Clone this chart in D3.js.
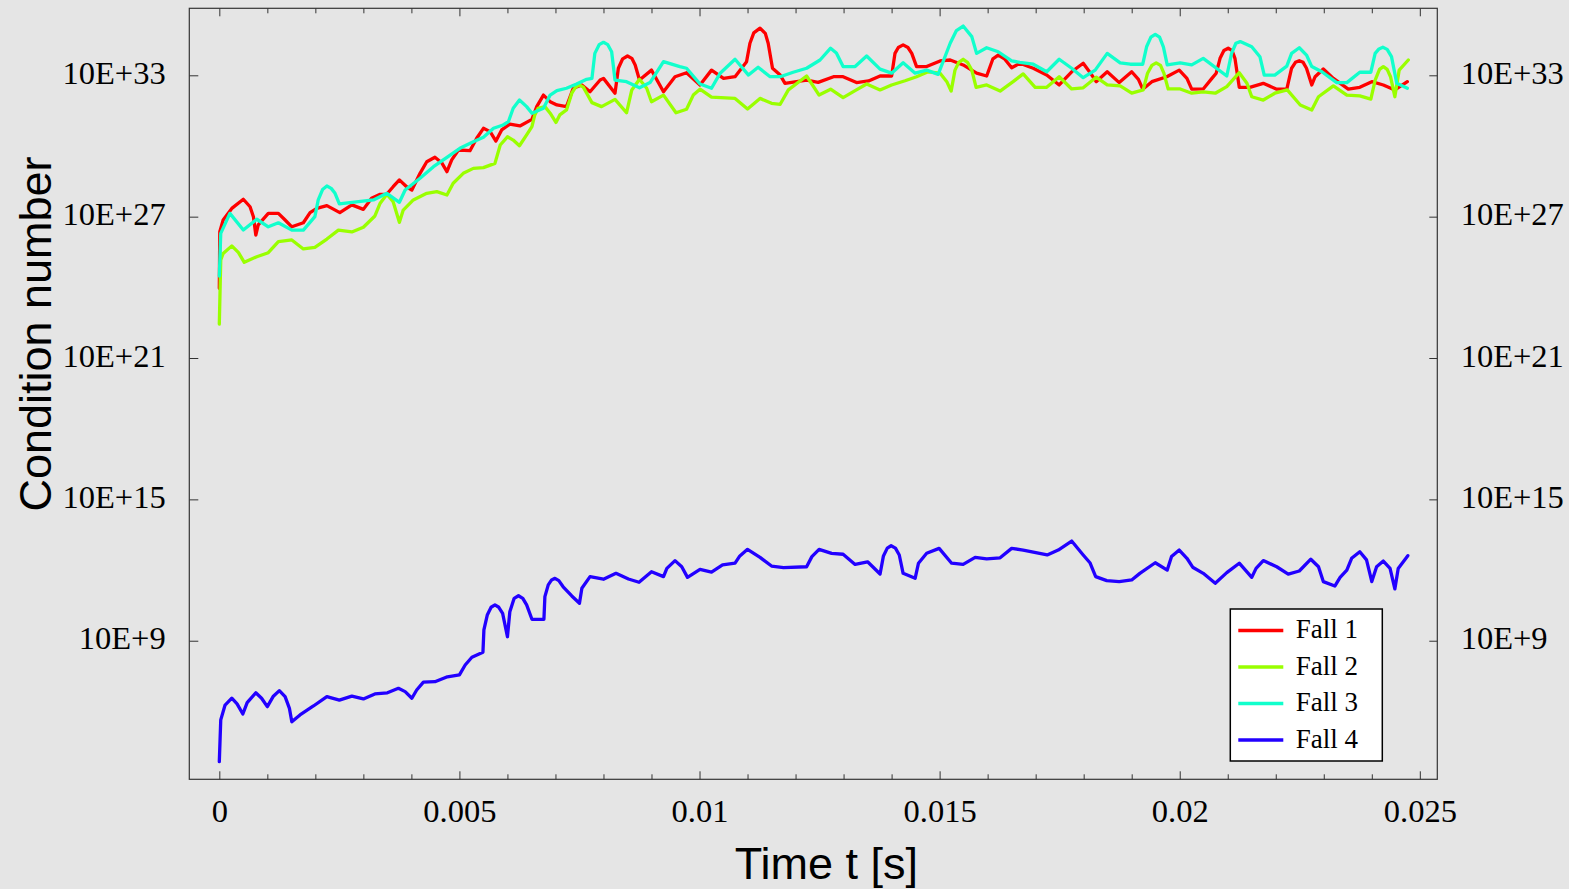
<!DOCTYPE html>
<html>
<head>
<meta charset="utf-8">
<script src="https://cdn.jsdelivr.net/npm/d3@7"></script>
<style>
  html, body { margin: 0; padding: 0; background: #e5e5e5; }
  svg { display: block; }
</style>
</head>
<body>
<svg id="chart" width="1569" height="889"></svg>
<script>
// Condition number over time for four load cases; values are log10 of the condition number.
const seriesNames = ["Fall 1", "Fall 2", "Fall 3", "Fall 4"];
const seriesColors = ["#ff0000", "#99ff00", "#11ffcc", "#2200ff"];

const xTickValues = [0, 0.005, 0.01, 0.015, 0.02, 0.025];
const xMinorValues = [0.001, 0.002, 0.003, 0.004, 0.006, 0.007, 0.008, 0.009, 0.011, 0.012, 0.013, 0.014,
                      0.016, 0.017, 0.018, 0.019, 0.021, 0.022, 0.023, 0.024];
const yTickExponents = [9, 15, 21, 27, 33];

// [time in s, log10(condition number)]
const fall1 = [[0,23.96],[0.00001,26.36],[0.00008,26.86],[0.00026,27.35],[0.00050,27.74],[0.00064,27.42],[0.00071,27.00],[0.00076,26.22],[0.00081,26.65],[0.00102,27.14],[0.00123,27.14],[0.00137,26.86],[0.00151,26.57],[0.00175,26.74],[0.00189,27.17],[0.00203,27.35],[0.00224,27.47],[0.00251,27.17],[0.00276,27.50],[0.00300,27.31],[0.00317,27.78],[0.00335,27.95],[0.00349,27.96],[0.00362,28.27],[0.00375,28.56],[0.00390,28.27],[0.00401,28.13],[0.00418,28.84],[0.00432,29.33],[0.00449,29.52],[0.00463,29.29],[0.00474,28.91],[0.00484,29.41],[0.00498,29.83],[0.00522,29.80],[0.00536,30.33],[0.00550,30.75],[0.00564,30.61],[0.00576,30.21],[0.00588,30.68],[0.00605,30.93],[0.00626,30.85],[0.00651,31.13],[0.00661,31.67],[0.00675,32.16],[0.00689,31.88],[0.00703,31.74],[0.00723,31.67],[0.00737,32.45],[0.00755,32.59],[0.00772,32.30],[0.00793,32.80],[0.00800,32.87],[0.00824,32.24],[0.00831,33.30],[0.00840,33.70],[0.00850,33.82],[0.00859,33.72],[0.00866,33.44],[0.00875,32.80],[0.00900,33.22],[0.00925,32.30],[0.00949,32.94],[0.00973,33.11],[0.01001,32.59],[0.01025,33.22],[0.01050,32.87],[0.01074,32.94],[0.01098,33.58],[0.01105,34.36],[0.01113,34.80],[0.01126,35.00],[0.01137,34.78],[0.01143,34.36],[0.01152,33.30],[0.01168,33.01],[0.01178,32.66],[0.01223,32.80],[0.01247,32.70],[0.01279,32.94],[0.01299,32.94],[0.01327,32.69],[0.01352,32.76],[0.01376,32.97],[0.01400,32.97],[0.01407,33.93],[0.01414,34.18],[0.01424,34.29],[0.01434,34.18],[0.01442,33.93],[0.01452,33.37],[0.01473,33.37],[0.01501,33.61],[0.01522,33.65],[0.01549,33.44],[0.01577,33.09],[0.01598,32.97],[0.01611,33.70],[0.01622,33.86],[0.01635,33.70],[0.01650,33.32],[0.01667,33.51],[0.01695,33.30],[0.01723,33.01],[0.01749,32.59],[0.01775,33.15],[0.01799,33.51],[0.01817,33.01],[0.01826,32.73],[0.01849,33.15],[0.01874,32.69],[0.01900,33.15],[0.01914,32.83],[0.01923,32.41],[0.01942,32.73],[0.01973,32.94],[0.01999,33.22],[0.02015,32.87],[0.02025,32.41],[0.02049,32.42],[0.02067,32.87],[0.02076,33.09],[0.02084,33.72],[0.02092,34.05],[0.02101,34.15],[0.02109,34.05],[0.02115,33.72],[0.02124,32.49],[0.02146,32.49],[0.02174,32.66],[0.02202,32.41],[0.02223,32.41],[0.02233,33.30],[0.02241,33.55],[0.02249,33.62],[0.02257,33.55],[0.02264,33.30],[0.02275,32.59],[0.02282,32.94],[0.02299,33.27],[0.02320,32.87],[0.02351,32.41],[0.02375,32.49],[0.02400,32.73],[0.02424,32.59],[0.02448,32.38],[0.02474,32.73]];

const fall2 = [[0,22.44],[0.00003,25.16],[0.00008,25.44],[0.00026,25.76],[0.00040,25.47],[0.00052,25.06],[0.00078,25.30],[0.00102,25.47],[0.00123,25.94],[0.00151,26.01],[0.00175,25.63],[0.00199,25.70],[0.00224,26.05],[0.00248,26.43],[0.00276,26.35],[0.00300,26.55],[0.00324,27.03],[0.00335,27.57],[0.00349,27.95],[0.00362,27.63],[0.00375,26.76],[0.00383,27.28],[0.00404,27.71],[0.00432,27.99],[0.00453,28.06],[0.00474,27.92],[0.00487,28.42],[0.00508,28.84],[0.00529,29.05],[0.00550,29.08],[0.00574,29.26],[0.00585,30.04],[0.00600,30.39],[0.00612,30.25],[0.00625,30.01],[0.00640,30.47],[0.00651,30.82],[0.00657,31.32],[0.00664,31.60],[0.00678,31.67],[0.00689,31.39],[0.00701,31.00],[0.00709,31.32],[0.00723,31.53],[0.00734,32.24],[0.00742,32.50],[0.00750,32.59],[0.00758,32.50],[0.00765,32.24],[0.00776,31.84],[0.00796,31.67],[0.00824,31.98],[0.00848,31.41],[0.00859,32.38],[0.00875,32.83],[0.00890,32.45],[0.00900,31.88],[0.00925,32.16],[0.00951,31.41],[0.00973,31.56],[0.00987,32.16],[0.01001,32.41],[0.01025,32.07],[0.01074,32.02],[0.01100,31.57],[0.01126,32.02],[0.01150,31.81],[0.01168,31.77],[0.01185,32.38],[0.01223,32.97],[0.01249,32.16],[0.01273,32.41],[0.01299,32.05],[0.01324,32.35],[0.01348,32.63],[0.01376,32.38],[0.01400,32.59],[0.01428,32.77],[0.01452,32.94],[0.01476,33.15],[0.01501,33.09],[0.01515,32.73],[0.01524,32.33],[0.01532,33.22],[0.01540,33.55],[0.01549,33.68],[0.01558,33.55],[0.01567,33.22],[0.01576,32.49],[0.01598,32.59],[0.01626,32.33],[0.01653,32.73],[0.01674,33.06],[0.01699,32.49],[0.01723,32.49],[0.01749,32.94],[0.01775,32.42],[0.01799,32.47],[0.01826,32.92],[0.01849,32.59],[0.01876,32.55],[0.01900,32.24],[0.01924,32.38],[0.01933,33.09],[0.01942,33.42],[0.01951,33.53],[0.01960,33.42],[0.01967,33.09],[0.01976,32.42],[0.02001,32.42],[0.02025,32.24],[0.02049,32.30],[0.02074,32.24],[0.02098,32.52],[0.02124,33.11],[0.02140,32.66],[0.02150,32.09],[0.02174,31.95],[0.02198,32.24],[0.02224,32.38],[0.02251,31.74],[0.02275,31.53],[0.02289,32.09],[0.02320,32.55],[0.02348,32.16],[0.02375,32.13],[0.02398,31.99],[0.02407,32.80],[0.02416,33.25],[0.02424,33.37],[0.02432,33.25],[0.02439,32.94],[0.02448,32.09],[0.02457,33.22],[0.02476,33.65]];

const fall3 = [[0,24.48],[0.00003,26.29],[0.00022,27.14],[0.00050,26.43],[0.00078,26.89],[0.00102,26.57],[0.00123,26.74],[0.00151,26.43],[0.00175,26.43],[0.00199,27.00],[0.00206,27.71],[0.00215,28.15],[0.00224,28.30],[0.00233,28.20],[0.00241,27.99],[0.00250,27.54],[0.00321,27.71],[0.00349,27.99],[0.00375,27.61],[0.00387,28.13],[0.00418,28.63],[0.00446,29.12],[0.00474,29.52],[0.00501,29.90],[0.00529,30.18],[0.00550,30.37],[0.00571,30.75],[0.00591,30.89],[0.00602,31.03],[0.00612,31.60],[0.00625,31.95],[0.00640,31.67],[0.00651,31.39],[0.00675,31.60],[0.00689,32.16],[0.00703,32.35],[0.00723,32.45],[0.00744,32.63],[0.00765,32.83],[0.00776,32.87],[0.00782,33.93],[0.00791,34.30],[0.00800,34.40],[0.00809,34.30],[0.00817,34.00],[0.00824,32.80],[0.00848,32.73],[0.00875,32.47],[0.00897,32.69],[0.00925,33.58],[0.00959,33.37],[0.00973,33.30],[0.01001,32.63],[0.01025,32.45],[0.01043,33.09],[0.01074,33.68],[0.01102,33.01],[0.01122,33.34],[0.01147,32.94],[0.01168,32.94],[0.01195,33.13],[0.01223,33.30],[0.01251,33.65],[0.01273,34.15],[0.01285,33.95],[0.01299,33.37],[0.01324,33.37],[0.01348,33.82],[0.01376,33.26],[0.01400,33.09],[0.01424,33.53],[0.01449,33.09],[0.01473,33.22],[0.01497,33.04],[0.01522,34.36],[0.01535,34.90],[0.01549,35.09],[0.01567,34.64],[0.01577,33.93],[0.01598,34.17],[0.01622,34.00],[0.01650,33.61],[0.01667,33.55],[0.01695,33.47],[0.01723,33.15],[0.01749,33.68],[0.01775,33.30],[0.01799,32.90],[0.01824,33.22],[0.01849,33.93],[0.01876,33.53],[0.01897,33.47],[0.01923,33.47],[0.01931,34.21],[0.01940,34.62],[0.01949,34.74],[0.01958,34.62],[0.01966,34.21],[0.01974,33.44],[0.02001,33.53],[0.02025,33.44],[0.02049,33.72],[0.02098,32.97],[0.02108,33.93],[0.02117,34.36],[0.02126,34.43],[0.02150,34.21],[0.02167,33.79],[0.02176,33.01],[0.02198,33.01],[0.02223,33.39],[0.02233,33.93],[0.02249,34.17],[0.02264,33.86],[0.02275,33.37],[0.02296,33.15],[0.02327,32.69],[0.02348,32.69],[0.02375,33.13],[0.02398,33.13],[0.02407,33.93],[0.02415,34.12],[0.02423,34.19],[0.02432,34.10],[0.02441,33.79],[0.02452,32.66],[0.02474,32.45]];

const fall4 = [[0,3.87],[0.00003,5.64],[0.00012,6.27],[0.00026,6.56],[0.00037,6.32],[0.00049,5.89],[0.00058,6.37],[0.00076,6.79],[0.00088,6.56],[0.00100,6.20],[0.00112,6.63],[0.00125,6.88],[0.00137,6.63],[0.00146,6.13],[0.00151,5.56],[0.00168,5.85],[0.00196,6.23],[0.00224,6.63],[0.00250,6.48],[0.00276,6.65],[0.00300,6.53],[0.00324,6.74],[0.00350,6.79],[0.00373,6.98],[0.00387,6.84],[0.00401,6.56],[0.00411,6.91],[0.00425,7.24],[0.00449,7.26],[0.00475,7.47],[0.00500,7.55],[0.00512,7.97],[0.00526,8.30],[0.00549,8.51],[0.00551,9.46],[0.00558,10.09],[0.00566,10.42],[0.00574,10.52],[0.00582,10.42],[0.00590,10.16],[0.00600,9.17],[0.00605,10.23],[0.00614,10.80],[0.00623,10.91],[0.00632,10.80],[0.00640,10.52],[0.00651,9.91],[0.00676,9.91],[0.00678,10.87],[0.00685,11.37],[0.00692,11.58],[0.00699,11.65],[0.00707,11.55],[0.00716,11.29],[0.00734,10.90],[0.00750,10.59],[0.00755,11.23],[0.00772,11.72],[0.00800,11.61],[0.00826,11.86],[0.00852,11.62],[0.00874,11.48],[0.00900,11.93],[0.00925,11.72],[0.00932,12.07],[0.00949,12.40],[0.00963,12.14],[0.00975,11.69],[0.01001,12.03],[0.01025,11.91],[0.01048,12.22],[0.01074,12.29],[0.01084,12.60],[0.01100,12.88],[0.01126,12.54],[0.01150,12.17],[0.01175,12.10],[0.01223,12.14],[0.01234,12.57],[0.01249,12.88],[0.01275,12.71],[0.01299,12.67],[0.01324,12.24],[0.01350,12.35],[0.01376,11.83],[0.01383,12.60],[0.01391,12.93],[0.01399,13.03],[0.01408,12.93],[0.01416,12.64],[0.01424,11.86],[0.01449,11.65],[0.01456,12.29],[0.01473,12.71],[0.01499,12.92],[0.01525,12.29],[0.01549,12.24],[0.01574,12.54],[0.01598,12.47],[0.01626,12.52],[0.01650,12.92],[0.01674,12.85],[0.01724,12.64],[0.01747,12.85],[0.01775,13.23],[0.01799,12.64],[0.01813,12.31],[0.01825,11.72],[0.01848,11.55],[0.01874,11.51],[0.01900,11.58],[0.01917,11.86],[0.01949,12.31],[0.01974,12.00],[0.01983,12.57],[0.01999,12.85],[0.02015,12.50],[0.02027,12.12],[0.02049,11.86],[0.02074,11.44],[0.02098,11.89],[0.02124,12.29],[0.02150,11.69],[0.02159,12.07],[0.02174,12.40],[0.02202,12.14],[0.02226,11.83],[0.02249,11.96],[0.02273,12.46],[0.02289,12.14],[0.02299,11.51],[0.02323,11.32],[0.02334,11.69],[0.02348,12.00],[0.02358,12.50],[0.02375,12.78],[0.02389,12.43],[0.02400,11.51],[0.02410,12.14],[0.02424,12.38],[0.02438,12.07],[0.02448,11.20],[0.02455,12.07],[0.02475,12.61]];

const allSeries = [fall1, fall2, fall3, fall4];

// ---- layout ----
const plot = { left: 189.3, right: 1437.3, top: 8.3, bottom: 779.3 };
const serif = "'Liberation Serif', 'Times New Roman', serif";
const sans = "'Liberation Sans', Arial, sans-serif";

const svg = d3.select("#chart");
svg.append("rect").attr("width", 1569).attr("height", 889).attr("fill", "#e5e5e5");

const x = d3.scaleLinear().domain([-0.000625, 0.025364]).range([plot.left, plot.right]);
const y = d3.scaleLog().domain([Math.pow(10, 3.118), Math.pow(10, 35.844)]).range([plot.bottom, plot.top]);

const fmtX = d => String(+d.toFixed(3));
const fmtY = d => "10E+" + Math.round(Math.log10(d));
const yTicks = yTickExponents.map(e => Math.pow(10, e));

function styleAxis(g) {
  g.select(".domain").remove();
  g.selectAll(".tick line").attr("stroke", "#333").attr("stroke-width", 1);
  g.selectAll("text").attr("font-family", serif).attr("font-size", 32.5).attr("fill", "#000");
}

// bottom axis: majors with labels, minors without
const gBottom = svg.append("g").attr("transform", `translate(0,${plot.bottom})`)
  .call(d3.axisBottom(x).tickValues(xTickValues).tickSize(-8).tickFormat(fmtX));
styleAxis(gBottom);
gBottom.selectAll("text").attr("y", 42.4).attr("dy", null);
svg.append("g").attr("transform", `translate(0,${plot.bottom})`)
  .call(d3.axisBottom(x).tickValues(xMinorValues).tickSize(-5).tickFormat(""))
  .call(styleAxis);

// top axis mirrors the bottom ticks
svg.append("g").attr("transform", `translate(0,${plot.top})`)
  .call(d3.axisTop(x).tickValues(xTickValues).tickSize(-8).tickFormat(""))
  .call(styleAxis);
svg.append("g").attr("transform", `translate(0,${plot.top})`)
  .call(d3.axisTop(x).tickValues(xMinorValues).tickSize(-5).tickFormat(""))
  .call(styleAxis);

// left and right log axes
const gLeft = svg.append("g").attr("transform", `translate(${plot.left},0)`)
  .call(d3.axisLeft(y).tickValues(yTicks).tickSize(-9).tickFormat(fmtY));
styleAxis(gLeft);
gLeft.selectAll("text").attr("x", -23.6).attr("dy", 8).attr("text-anchor", "end");

const gRight = svg.append("g").attr("transform", `translate(${plot.right},0)`)
  .call(d3.axisRight(y).tickValues(yTicks).tickSize(-8).tickFormat(fmtY));
styleAxis(gRight);
gRight.selectAll("text").attr("x", 23.4).attr("dy", 8).attr("text-anchor", "start");

// frame
svg.append("rect")
  .attr("x", plot.left).attr("y", plot.top)
  .attr("width", plot.right - plot.left).attr("height", plot.bottom - plot.top)
  .attr("fill", "none").attr("stroke", "#333").attr("stroke-width", 1.2);

// series lines
const line = d3.line().x(d => x(d[0])).y(d => y(Math.pow(10, d[1])));
svg.append("clipPath").attr("id", "plotClip").append("rect")
  .attr("x", plot.left).attr("y", plot.top)
  .attr("width", plot.right - plot.left).attr("height", plot.bottom - plot.top);
svg.append("g").attr("clip-path", "url(#plotClip)")
  .selectAll("path").data(allSeries).join("path")
  .attr("d", line)
  .attr("fill", "none")
  .attr("stroke", (d, i) => seriesColors[i])
  .attr("stroke-width", 3.3)
  .attr("stroke-linejoin", "round")
  .attr("stroke-linecap", "round");

// axis titles
svg.append("text")
  .attr("x", 826.3).attr("y", 879.3)
  .attr("text-anchor", "middle")
  .attr("font-family", sans).attr("font-size", 45).attr("fill", "#000")
  .text("Time t [s]");
svg.append("text")
  .attr("transform", "translate(50.7,334) rotate(-90)")
  .attr("text-anchor", "middle")
  .attr("font-family", sans).attr("font-size", 45).attr("fill", "#000")
  .text("Condition number");

// legend
const legend = svg.append("g");
legend.append("rect")
  .attr("x", 1230.3).attr("y", 609).attr("width", 152).attr("height", 152)
  .attr("fill", "#fff").attr("stroke", "#000").attr("stroke-width", 1.5);
const rows = legend.selectAll("g.row").data(seriesNames).join("g")
  .attr("class", "row")
  .attr("transform", (d, i) => `translate(0,${630.5 + i * 36.5})`);
rows.append("line")
  .attr("x1", 1238.3).attr("x2", 1283.3).attr("y1", 0).attr("y2", 0)
  .attr("stroke", (d, i) => seriesColors[i]).attr("stroke-width", 3.5);
rows.append("text")
  .attr("x", 1295.7).attr("y", 7.8)
  .attr("font-family", serif).attr("font-size", 27).attr("fill", "#000")
  .text(d => d);
</script>
</body>
</html>
